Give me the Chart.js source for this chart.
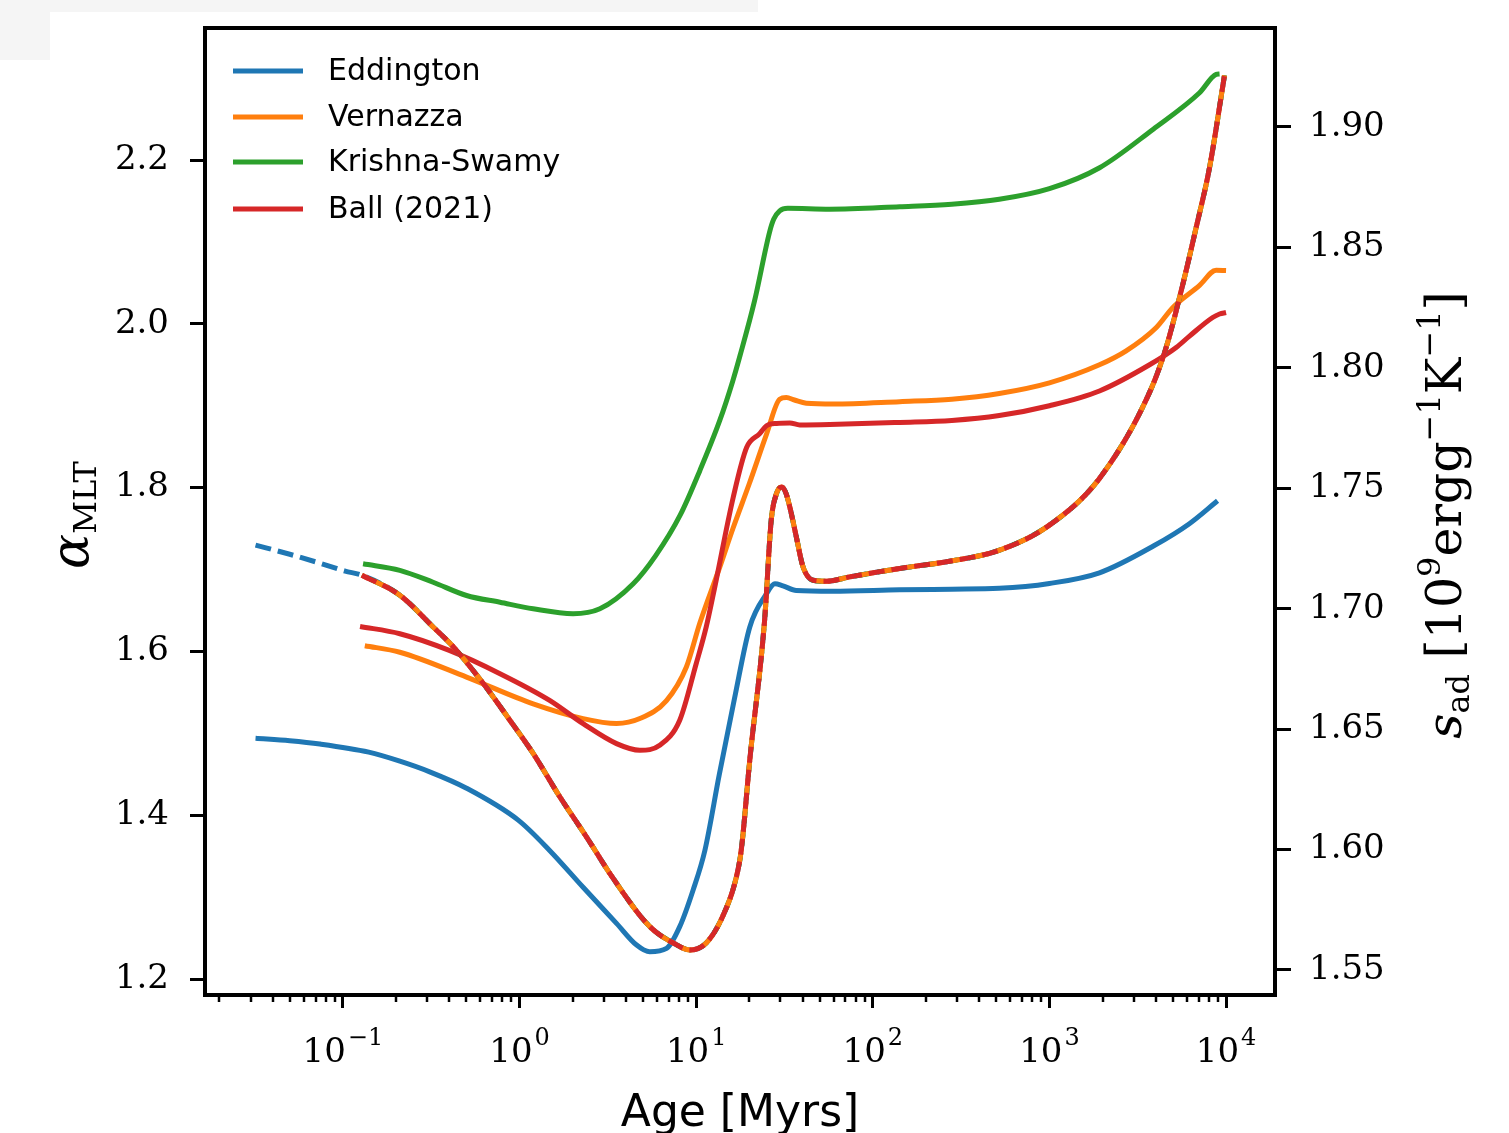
<!DOCTYPE html>
<html>
<head>
<meta charset="utf-8">
<script src="https://cdn.jsdelivr.net/npm/chart.js@4.4.0/dist/chart.umd.min.js"></script>
<style>
  html, body { margin: 0; padding: 0; background: #fff; }
  #wrap { position: relative; width: 1509px; height: 1133px; overflow: hidden; }
  .strip { position: absolute; background: #f5f5f5; }
  canvas { position: absolute; left: 0; top: 0; }
</style>
</head>
<body>
<div id="wrap">
  <div class="strip" style="left:0;top:0;width:758px;height:12px"></div>
  <div class="strip" style="left:0;top:0;width:50px;height:60px"></div>
  <canvas id="chart" width="1509" height="1133"></canvas>
</div>
<script>
// tick values and labels
const xTicks = [0.1, 1, 10, 100, 1000, 10000];
const xTickPowers = ['−1', '0', '1', '2', '3', '4'];
const alphaTicks = [1.2, 1.4, 1.6, 1.8, 2.0, 2.2];
const sadTicks = [1.55, 1.60, 1.65, 1.70, 1.75, 1.80, 1.85, 1.90];

const seriesNames = ['Eddington', 'Vernazza', 'Krishna-Swamy', 'Ball (2021)'];
const seriesColors = ['#1f77b4', '#ff7f0e', '#2ca02c', '#d62728'];

// alpha_MLT vs age [Myr]
const ageEdd = [0.032, 0.05, 0.074, 0.14, 0.21, 0.31, 0.501, 0.983, 1.48, 2.29, 3.54, 4.6, 5.46, 6.8, 8.07, 9.6, 11.2, 13.5, 16.5, 20.1, 25, 27.9, 31, 36.9, 59, 142, 280, 520, 1000, 1920, 3900, 6200, 8950];
const alphaEdd = [1.494, 1.491, 1.487, 1.477, 1.466, 1.453, 1.433, 1.394, 1.357, 1.312, 1.268, 1.2415, 1.2333, 1.2374, 1.264, 1.3085, 1.357, 1.449, 1.543, 1.6296, 1.6703, 1.6825, 1.680, 1.6744, 1.6735, 1.6752, 1.676, 1.677, 1.683, 1.696, 1.729, 1.756, 1.784];

const ageVer = [0.133, 0.21, 0.501, 1.194, 2.29, 3.54, 4.8, 6.79, 8.8, 10.5, 13.6, 16.2, 20, 25, 29.7, 32.4, 36, 42, 60, 142, 280, 520, 1000, 1920, 2720, 4030, 5000, 7080, 8790, 10000];
const alphaVer = [1.607, 1.599, 1.5687, 1.536, 1.518, 1.512, 1.518, 1.540, 1.581, 1.635, 1.703, 1.751, 1.805, 1.865, 1.908, 1.910, 1.907, 1.903, 1.902, 1.905, 1.908, 1.915, 1.928, 1.950, 1.967, 1.9955, 2.020, 2.047, 2.0655, 2.065];

const ageKri = [0.130, 0.21, 0.324, 0.501, 0.775, 1.194, 2.01, 2.85, 4.4, 5.9, 8.1, 10.5, 13.6, 16.1, 17.7, 21.4, 26.1, 27.5, 29.7, 33, 57, 142, 280, 520, 1000, 1923, 3855, 7080, 8790, 9190];
const alphaKri = [1.707, 1.699, 1.6845, 1.6683, 1.660, 1.652, 1.646, 1.652, 1.6826, 1.717, 1.766, 1.821, 1.882, 1.930, 1.961, 2.028, 2.113, 2.128, 2.138, 2.141, 2.140, 2.143, 2.146, 2.152, 2.165, 2.1906, 2.2374, 2.2821, 2.3045, 2.305];

const ageBal = [0.125, 0.21, 0.40, 0.775, 1.48, 2.29, 3.54, 4.8, 6.22, 8.07, 10.0, 11.4, 12.7, 16.2, 19.3, 22.9, 25, 28.5, 33.9, 38.6, 57, 142, 280, 520, 1000, 1920, 3690, 5220, 6210, 8400, 9190, 10000];
const alphaBal = [1.6305, 1.6216, 1.6012, 1.5728, 1.5402, 1.5118, 1.4874, 1.4793, 1.4854, 1.516, 1.585, 1.630, 1.677, 1.788, 1.849, 1.866, 1.8756, 1.8784, 1.879, 1.8765, 1.877, 1.8796, 1.882, 1.888, 1.900, 1.918, 1.950, 1.9711, 1.985, 2.0077, 2.012, 2.0138];

// s_ad [1e9 erg g^-1 K^-1] vs age, same for all models
const ageSad = [0.032, 0.05, 0.074, 0.103, 0.128, 0.21, 0.324, 0.421, 0.622, 0.881, 1.194, 1.69, 2.39, 3.39, 5.46, 7.5, 9.2, 11.4, 14.1, 16.9, 18.0, 20.1, 24.4, 26.6, 28.5, 30.5, 32.1, 33.9, 36.9, 40.3, 45.9, 54.6, 74, 142, 272, 522, 1000, 1920, 3690, 4585, 5700, 6780, 8070, 9800];
const sadValues = [1.7264, 1.7226, 1.7189, 1.7156, 1.7139, 1.7056, 1.6924, 1.6842, 1.669, 1.6537, 1.6399, 1.6219, 1.6053, 1.588, 1.568, 1.561, 1.5583, 1.5612, 1.5721, 1.5887, 1.5998, 1.637, 1.6952, 1.7367, 1.7478, 1.7505, 1.7483, 1.7422, 1.7298, 1.7173, 1.7118, 1.7114, 1.7132, 1.7167, 1.7197, 1.7243, 1.7347, 1.7541, 1.7898, 1.8086, 1.8349, 1.8584, 1.8833, 1.9214];

const alphaAges = [ageEdd, ageVer, ageKri, ageBal];
const alphaVals = [alphaEdd, alphaVer, alphaKri, alphaBal];
const sadStart = [0.03, 0.128, 0.128, 0.128];

function pts(ages, vals, from) {
  const out = [];
  ages.forEach((a, i) => { if (a >= (from || 0)) out.push({ x: a, y: vals[i] }); });
  return out;
}

const solidOrder = [7, 6, 5, 4];
const dashOrder = [3, 1, 2, 0];
const dashOffset = [0, 9, 14, 0];

const datasets = [];
for (let i = 0; i < 4; i++) {
  datasets.push({
    label: seriesNames[i],
    data: pts(alphaAges[i], alphaVals[i]),
    yAxisID: 'y',
    borderColor: seriesColors[i],
    borderWidth: 5,
    pointRadius: 0,
    cubicInterpolationMode: 'monotone',
    fill: false,
    order: solidOrder[i]
  });
}
for (let i = 0; i < 4; i++) {
  datasets.push({
    label: seriesNames[i] + ' s_ad',
    data: pts(ageSad, sadValues, sadStart[i]),
    yAxisID: 'y2',
    borderColor: seriesColors[i],
    borderWidth: 5,
    borderDash: [16, 7],
    borderDashOffset: dashOffset[i],
    pointRadius: 0,
    cubicInterpolationMode: 'monotone',
    fill: false,
    order: dashOrder[i]
  });
}

// draws segments of text (with sub/superscripts) rotated by -90deg
function drawRotated(ctx, cx, cy, parts) {
  ctx.save();
  ctx.translate(cx, cy);
  ctx.rotate(-Math.PI / 2);
  let total = 0;
  parts.forEach(p => { ctx.font = p.font; p.w = ctx.measureText(p.t).width; total += p.w; });
  let x = -total / 2;
  ctx.fillStyle = '#000';
  ctx.textBaseline = 'alphabetic';
  ctx.textAlign = 'left';
  parts.forEach(p => { ctx.font = p.font; ctx.fillText(p.t, x, p.dy || 0); x += p.w; });
  ctx.restore();
}

const decorPlugin = {
  id: 'decor',
  afterDraw(chart) {
    const ctx = chart.ctx;
    const a = chart.chartArea;
    const xs = chart.scales.x;

    ctx.save();
    ctx.strokeStyle = '#000';
    // minor log ticks
    ctx.lineWidth = 2.5;
    for (let k = -2; k <= 4; k++) {
      for (let m = 2; m <= 9; m++) {
        const v = m * Math.pow(10, k);
        if (v < xs.min || v > xs.max) continue;
        const px = Math.round(xs.getPixelForValue(v));
        ctx.beginPath();
        ctx.moveTo(px, a.bottom);
        ctx.lineTo(px, a.bottom + 7);
        ctx.stroke();
      }
    }
    // frame
    ctx.lineWidth = 4;
    ctx.strokeRect(a.left, a.top, a.right - a.left, a.bottom - a.top);

    // x tick labels 10^k
    ctx.fillStyle = '#000';
    ctx.textBaseline = 'alphabetic';
    ctx.textAlign = 'left';
    xTicks.forEach((v, i) => {
      const px = xs.getPixelForValue(v);
      ctx.font = '34px "DejaVu Serif"';
      const wb = ctx.measureText('10').width;
      ctx.font = '24px "DejaVu Serif"';
      const we = ctx.measureText(xTickPowers[i]).width;
      const x0 = px - (wb + we + 2) / 2;
      ctx.font = '34px "DejaVu Serif"';
      ctx.fillText('10', x0, 1062);
      ctx.font = '24px "DejaVu Serif"';
      ctx.fillText(xTickPowers[i], x0 + wb + 2, 1045);
    });
    ctx.restore();

    // legend
    ctx.save();
    ctx.font = '30px "DejaVu Sans"';
    ctx.textBaseline = 'middle';
    ctx.textAlign = 'left';
    const rows = [71, 117, 162, 209];
    for (let i = 0; i < 4; i++) {
      const ds = chart.data.datasets[i];
      ctx.strokeStyle = ds.borderColor;
      ctx.lineWidth = 5;
      ctx.beginPath();
      ctx.moveTo(233, rows[i]);
      ctx.lineTo(303, rows[i]);
      ctx.stroke();
      ctx.fillStyle = '#000';
      ctx.fillText(ds.label, 328, rows[i] + 1);
    }
    ctx.restore();

    // x title
    ctx.save();
    ctx.font = '44px "DejaVu Sans"';
    ctx.fillStyle = '#000';
    ctx.textAlign = 'center';
    ctx.textBaseline = 'alphabetic';
    ctx.fillText('Age [Myrs]', (a.left + a.right) / 2, 1126);
    ctx.restore();

    // left title
    drawRotated(ctx, 88, 515, [
      { t: 'α', font: 'italic 52px "DejaVu Serif"' },
      { t: 'MLT', font: '32px "DejaVu Serif"', dy: 8 }
    ]);
    // right title
    drawRotated(ctx, 1461, 515, [
      { t: 's', font: 'italic 49px "DejaVu Serif"' },
      { t: 'ad', font: '32px "DejaVu Serif"', dy: 8 },
      { t: ' [10', font: '49px "DejaVu Serif"' },
      { t: '9', font: '32px "DejaVu Serif"', dy: -21 },
      { t: 'ergg', font: '49px "DejaVu Serif"' },
      { t: '−1', font: '32px "DejaVu Serif"', dy: -21 },
      { t: 'K', font: '49px "DejaVu Serif"' },
      { t: '−1', font: '32px "DejaVu Serif"', dy: -21 },
      { t: ']', font: '49px "DejaVu Serif"' }
    ]);
  }
};

const tickFont = { family: '"DejaVu Serif"', size: 34 };
const noPad = s => { s.paddingTop = 0; s.paddingBottom = 0; s.paddingLeft = 0; s.paddingRight = 0; };

new Chart(document.getElementById('chart').getContext('2d'), {
  type: 'line',
  data: { datasets: datasets },
  options: {
    responsive: false,
    animation: false,
    devicePixelRatio: 1,
    layout: { padding: { top: 28, left: 0, right: 0, bottom: 0 } },
    plugins: { legend: { display: false }, tooltip: { enabled: false } },
    scales: {
      x: {
        type: 'logarithmic',
        position: 'bottom',
        min: 0.01656,
        max: 18930,
        afterBuildTicks: s => { s.ticks = xTicks.map(v => ({ value: v })); },
        afterFit: s => { s.height = 138; noPad(s); },
        border: { display: false },
        grid: { drawOnChartArea: false, drawTicks: true, tickLength: 13, tickWidth: 3, tickColor: '#000' },
        ticks: { display: false, autoSkip: false, maxRotation: 0 }
      },
      y: {
        type: 'linear',
        position: 'left',
        min: 1.1805,
        max: 2.3612,
        afterBuildTicks: s => { s.ticks = alphaTicks.map(v => ({ value: v })); },
        afterFit: s => { s.width = 205; noPad(s); },
        border: { display: false },
        grid: { drawOnChartArea: false, drawTicks: true, tickLength: 15, tickWidth: 3, tickColor: '#000' },
        ticks: { color: '#000', font: tickFont, padding: 21, callback: v => v.toFixed(1) }
      },
      y2: {
        type: 'linear',
        position: 'right',
        min: 1.5396,
        max: 1.9411,
        afterBuildTicks: s => { s.ticks = sadTicks.map(v => ({ value: v })); },
        afterFit: s => { s.width = 234; noPad(s); },
        border: { display: false },
        grid: { drawOnChartArea: false, drawTicks: true, tickLength: 16, tickWidth: 3, tickColor: '#000' },
        ticks: { color: '#000', font: tickFont, padding: 18, callback: v => v.toFixed(2) }
      }
    }
  },
  plugins: [decorPlugin]
});
</script>
</body>
</html>
